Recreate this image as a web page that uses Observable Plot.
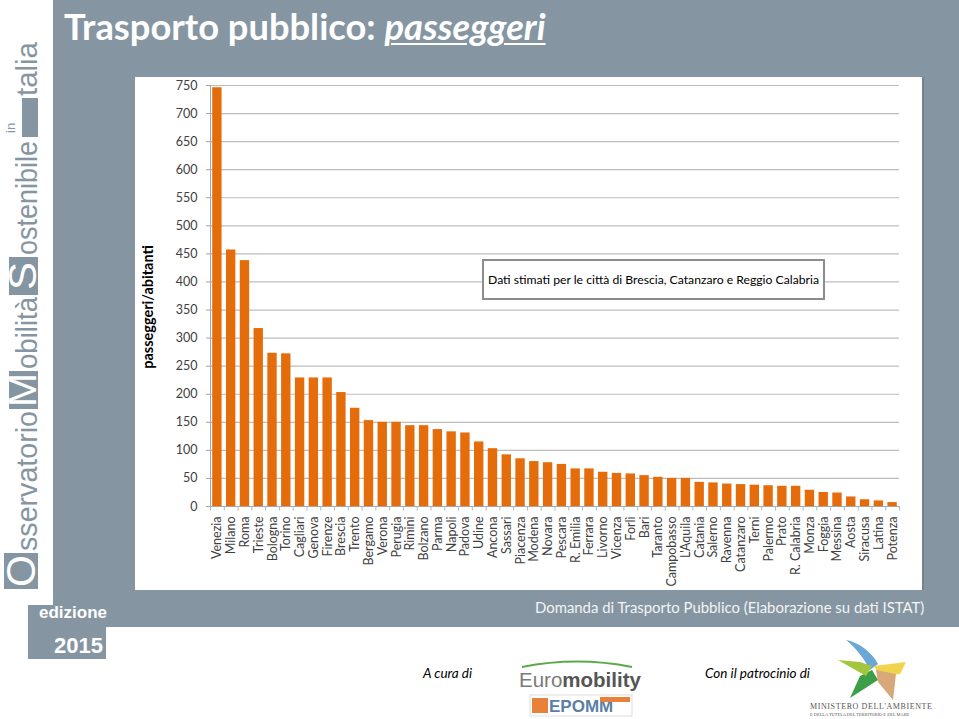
<!DOCTYPE html>
<html><head><meta charset="utf-8">
<script src="https://cdn.jsdelivr.net/npm/d3@7"></script>
<script src="https://cdn.jsdelivr.net/npm/@observablehq/plot@0.6"></script>
<style>
body{margin:0;background:#fff;}
#page{position:relative;width:959px;height:719px;overflow:hidden;background:#fff;font-family:Lato,"Open Sans",sans-serif;}
.abs{position:absolute;}
#chart svg{display:block;}
</style></head><body>
<div id="page">
  <div class="abs" style="left:53px;top:0;width:906px;height:627px;background:#8596a2"></div>
  <div class="abs" style="left:28px;top:605px;width:78px;height:54px;background:#8596a2"></div>
  <div class="abs" style="left:39px;top:603px;width:66px;color:#fff;font:bold 17px 'Liberation Sans',Arial,sans-serif;">edizione</div>
  <div class="abs" style="left:54px;top:633px;color:#fff;font:bold 22px 'Liberation Sans',Arial,sans-serif;">2015</div>
  <div class="abs" id="title" style="left:64px;top:4px;color:#fff;font:bold 36.3px Lato,sans-serif;white-space:nowrap;">Trasporto pubblico: <span style="font-style:italic;text-decoration:underline;text-decoration-thickness:2px;text-underline-offset:3px;">passeggeri</span></div>
  <div class="abs" style="left:135px;top:77px;width:787px;height:513px;background:#fff;box-shadow:2px 0 0 #74848f;"></div>
  <div class="abs" id="chart" style="left:135px;top:77px;width:787px;height:513px;"></div>
  <div class="abs" id="note" style="left:482px;top:259px;width:339px;height:37px;border:2px solid #8c8c8c;background:#fff;box-sizing:content-box;display:flex;align-items:center;justify-content:center;font:12.2px Lato,sans-serif;color:#000;white-space:nowrap;">Dati stimati per le città di Brescia, Catanzaro e Reggio Calabria</div>
  <div class="abs" style="left:535px;top:598px;color:#f4f4f4;font:14.9px Lato,sans-serif;white-space:nowrap;">Domanda di Trasporto Pubblico (Elaborazione su dati ISTAT)</div>
  <div class="abs" style="left:423px;top:665px;font:italic 13.5px Lato,sans-serif;color:#000;">A cura di</div>
  <div class="abs" style="left:705px;top:665px;font:italic 13.5px Lato,sans-serif;color:#000;">Con il patrocinio di</div>

  <svg class="abs" style="left:0;top:0" width="52" height="600">
    <g transform="translate(38,589) rotate(-90)" font-family="Liberation Sans, Arial, sans-serif" fill="#8596a2">
      <rect x="0" y="-34" width="36" height="34"/>
      <text x="18" y="-3" font-size="40" fill="#fff" text-anchor="middle" textLength="32" lengthAdjust="spacingAndGlyphs">O</text>
      <text x="38" y="-1" font-size="30" textLength="140" lengthAdjust="spacingAndGlyphs">sservatorio</text>
      <rect x="180" y="-29" width="38" height="29"/>
      <text x="199" y="-2" font-size="38" fill="#fff" text-anchor="middle" textLength="34" lengthAdjust="spacingAndGlyphs">M</text>
      <text x="220" y="-1" font-size="30" textLength="72" lengthAdjust="spacingAndGlyphs">obilità</text>
      <rect x="294" y="-29" width="38" height="29"/>
      <text x="313" y="-2" font-size="38" fill="#fff" text-anchor="middle" textLength="28" lengthAdjust="spacingAndGlyphs">S</text>
      <text x="334" y="-1" font-size="30" textLength="114" lengthAdjust="spacingAndGlyphs">ostenibile</text>
      <text x="456" y="-23" font-size="13">in</text>
      <rect x="452" y="-16" width="39" height="16"/>
      <text x="493" y="-1" font-size="30" textLength="54" lengthAdjust="spacingAndGlyphs">talia</text>
    </g>
  </svg>

  <svg class="abs" style="left:500px;top:630px" width="459" height="89">
    <path d="M22,37 Q77,26 132,37" stroke="#5aa84a" stroke-width="2" fill="none"/>
    <text x="19" y="57" font-family="Liberation Sans, Arial, sans-serif" font-size="20.5" fill="#7a7a7a">Euro<tspan font-weight="bold" fill="#555">mobility</tspan></text>
    <rect x="30" y="65" width="102" height="21" fill="#fff" stroke="#ddd"/>
    <rect x="32" y="68" width="16" height="15" fill="#e8823a"/>
    <text x="49" y="82" font-family="Liberation Sans, Arial, sans-serif" font-size="17" font-weight="bold" fill="#5b7fa6">EPOMM</text>
    <rect x="100" y="67" width="30" height="5" fill="#e8823a"/>
    <g transform="translate(374,38)">
      <path d="M-4,2 C-10,-10 -20,-22 -28,-28 C-16,-26 -2,-16 4,-4 Z" fill="#6aa8d8"/>
      <path d="M0,-2 L32,-6 L26,6 L6,8 Z" fill="#f2d44c"/>
      <path d="M2,2 L22,6 L19,32 L4,14 Z" fill="#d7a87a"/>
      <path d="M-2,2 L4,12 L-24,30 L-14,8 Z" fill="#3c9e47"/>
      <path d="M-2,-2 L-8,8 L-36,-8 L-14,-6 Z" fill="#a3c63d"/>
    </g>
    <text x="310" y="79" font-family="Liberation Serif, serif" font-size="8" letter-spacing="0.6" fill="#555">MINISTERO DELL'AMBIENTE</text>
    <text x="310" y="86" font-family="Liberation Serif, serif" font-size="4.4" fill="#555">E DELLA TUTELA DEL TERRITORIO E DEL MARE</text>
  </svg>
</div>
<script>
const cities = ["Venezia","Milano","Roma","Trieste","Bologna","Torino","Cagliari","Genova","Firenze","Brescia","Trento","Bergamo","Verona","Perugia","Rimini","Bolzano","Parma","Napoli","Padova","Udine","Ancona","Sassari","Piacenza","Modena","Novara","Pescara","R. Emilia","Ferrara","Livorno","Vicenza","Forlì","Bari","Taranto","Campobasso","L'Aquila","Catania","Salerno","Ravenna","Catanzaro","Terni","Palermo","Prato","R. Calabria","Monza","Foggia","Messina","Aosta","Siracusa","Latina","Potenza"];
const values = [746,457,438,317,273,272,229,229,229,203,175,153,150,150,144,144,137,133,131,115,103,92,85,80,78,75,67,67,61,59,58,55,52,50,50,43,42,40,39,38,37,36,36,29,25,24,17,12,10,7];
const yTicks = [0,50,100,150,200,250,300,350,400,450,500,550,600,650,700,750];
const yLabel = "passeggeri/abitanti";

const data = cities.map((c, i) => ({city: c, value: values[i]}));
const W = 787, H = 513, mL = 75, mR = 23, mT = 8, mB = 84;
const step = (W - mL - mR) / cities.length;

const chart = Plot.plot({
  width: W, height: H,
  marginLeft: mL, marginRight: mR, marginTop: mT, marginBottom: mB,
  style: {fontFamily: "Lato, sans-serif", fontSize: "12px", color: "#404040", background: "transparent", overflow: "visible"},
  x: {domain: cities, paddingInner: 0.32, paddingOuter: 0.16, label: null},
  y: {domain: [0, 750], label: null},
  marks: [
    Plot.ruleY(yTicks.slice(1), {stroke: "#bdbdbd", strokeWidth: 1.2}),
    Plot.barY(data, {x: "city", y: "value", fill: "#e46c0a"}),
    Plot.ruleY([0], {stroke: "#a6a6a6"}),
    Plot.ruleX([cities[0]], {y1: 0, y2: 750, dx: -step / 2, stroke: "#a6a6a6"}),
    Plot.ruleX(cities, {y1: 0, y2: -8, dx: -step / 2, stroke: "#a9b8c9"}),
    Plot.ruleX([cities[cities.length - 1]], {y1: 0, y2: -8, dx: step / 2, stroke: "#a9b8c9"}),
    Plot.axisY({ticks: yTicks, tickSize: 4, tickPadding: 9, stroke: "#a6a6a6", fill: "#404040", label: null, fontSize: 12.5}),
    Plot.axisX({tickSize: 0, tickRotate: -90, tickPadding: 10, label: null, fill: "#404040", fontSize: 12.5}),
    Plot.text([yLabel], {frameAnchor: "left", textAnchor: "middle", rotate: -90, dx: -62, dy: 11, fontWeight: "bold", fontSize: 14.5, fill: "#000"})
  ]
});
document.getElementById("chart").appendChild(chart);
</script>
</body></html>
